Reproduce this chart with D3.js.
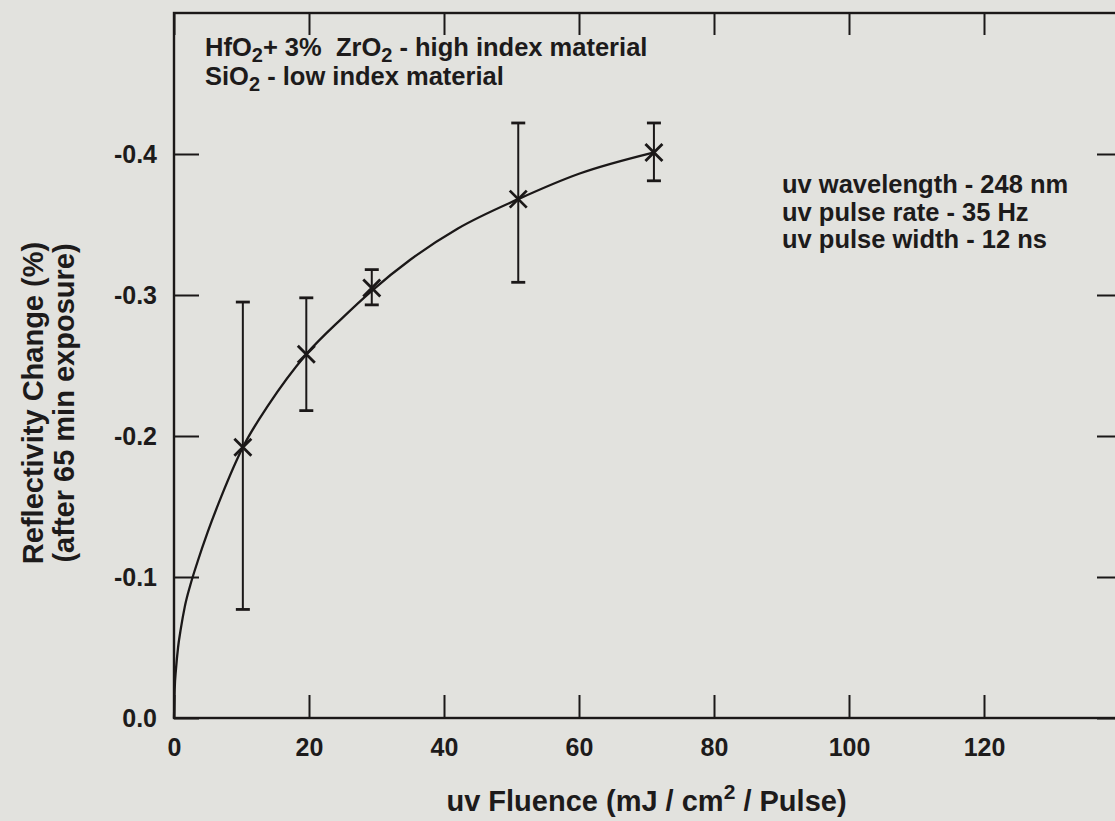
<!DOCTYPE html>
<html>
<head>
<meta charset="utf-8">
<script src="https://cdn.jsdelivr.net/npm/d3@7"></script>
<style>
  html, body { margin: 0; padding: 0; background: #e2e2de; }
  svg { display: block; }
  text { font-family: "Liberation Sans", Arial, Helvetica, sans-serif; font-weight: bold; fill: #1d1b1b; }
</style>
</head>
<body>
<svg id="chart" width="1115" height="821"></svg>
<script>
// Measured reflectivity change vs. uv fluence
const fluence   = [10.2, 19.6, 29.3, 51.0, 71.1];
const change    = [-0.192, -0.258, -0.305, -0.368, -0.401];
const errUpper  = [-0.077, -0.218, -0.293, -0.309, -0.381];
const errLower  = [-0.295, -0.298, -0.318, -0.422, -0.422];

// Fitted trend line, sampled along its path
const fitFluence = [0, 0.1, 0.3, 0.6, 1.0, 1.6, 2.4, 3.5, 5, 7, 10.2, 14, 19.6, 25, 29.3, 35, 42, 51, 60, 71];
const fitChange  = [0, -0.020, -0.035, -0.050, -0.063, -0.079, -0.094, -0.111, -0.132, -0.157, -0.192,
                    -0.222, -0.258, -0.284, -0.303, -0.325, -0.347, -0.368, -0.386, -0.401];

// Axis ticks
const xTicks = [0, 20, 40, 60, 80, 100, 120];
const yTicks = [0, -0.1, -0.2, -0.3, -0.4];

const ink = "#1b1818";
const svg = d3.select("#chart");

const x = d3.scaleLinear().domain([0, 140]).range([174, 1119]);
const y = d3.scaleLinear().domain([0, -0.5]).range([718, 13]);

const plot = svg.append("g");

// Bottom axis with labels, inward ticks
const axBottom = plot.append("g")
  .attr("transform", `translate(0,${y(0)})`)
  .call(d3.axisBottom(x).tickValues(xTicks).tickSizeInner(-23).tickSizeOuter(0)
        .tickPadding(20).tickFormat(d => d));
// Top axis, ticks only
const axTop = plot.append("g")
  .attr("transform", `translate(0,${y(-0.5)})`)
  .call(d3.axisTop(x).tickValues(xTicks).tickSizeInner(-22).tickSizeOuter(0).tickFormat(""));
// Left axis with labels
const axLeft = plot.append("g")
  .attr("transform", `translate(${x(0)},0)`)
  .call(d3.axisLeft(y).tickValues(yTicks).tickSizeInner(-25).tickSizeOuter(0)
        .tickPadding(17).tickFormat(d => d.toFixed(1)));
// Right axis, ticks only
const axRight = plot.append("g")
  .attr("transform", `translate(${x(140)},0)`)
  .call(d3.axisRight(y).tickValues(yTicks).tickSizeInner(-22).tickSizeOuter(0).tickFormat(""));

[axBottom, axTop, axLeft, axRight].forEach(g => {
  g.select(".domain").remove();
  g.selectAll(".tick line").attr("stroke", ink).attr("stroke-width", 2);
  g.selectAll(".tick text").style("font-size", "25px").attr("fill", ink);
});
axBottom.selectAll(".tick text").attr("dy", "0.71em");
axLeft.selectAll(".tick text").attr("dy", "0.35em");

// Frame
plot.append("rect")
  .attr("x", x(0)).attr("y", y(-0.5))
  .attr("width", x(140) - x(0)).attr("height", y(0) - y(-0.5))
  .attr("fill", "none").attr("stroke", ink).attr("stroke-width", 2.4);

// Trend line
const fitData = fitFluence.map((f, i) => [f, fitChange[i]]);
plot.append("path")
  .datum(fitData)
  .attr("fill", "none").attr("stroke", ink).attr("stroke-width", 2.3)
  .attr("d", d3.line().x(d => x(d[0])).y(d => y(d[1])).curve(d3.curveMonotoneX));

// Error bars
const pts = fluence.map((f, i) => ({ f, v: change[i], lo: errUpper[i], hi: errLower[i] }));
const bars = plot.append("g").attr("stroke", ink);
bars.selectAll("line.stem").data(pts).join("line").attr("class", "stem")
  .attr("x1", d => x(d.f)).attr("x2", d => x(d.f))
  .attr("y1", d => y(d.lo)).attr("y2", d => y(d.hi))
  .attr("stroke-width", 2);
const capW = 7;
bars.selectAll("line.capHi").data(pts).join("line").attr("class", "capHi")
  .attr("x1", d => x(d.f) - capW).attr("x2", d => x(d.f) + capW)
  .attr("y1", d => y(d.hi)).attr("y2", d => y(d.hi))
  .attr("stroke-width", 2.8);
bars.selectAll("line.capLo").data(pts).join("line").attr("class", "capLo")
  .attr("x1", d => x(d.f) - capW).attr("x2", d => x(d.f) + capW)
  .attr("y1", d => y(d.lo)).attr("y2", d => y(d.lo))
  .attr("stroke-width", 2.8);

// Cross markers
const arm = 8.5;
const marks = plot.append("g").attr("stroke", ink).attr("stroke-width", 2.8);
marks.selectAll("path").data(pts).join("path")
  .attr("d", d => {
    const cx = x(d.f), cy = y(d.v);
    return `M${cx - arm},${cy - arm}L${cx + arm},${cy + arm}M${cx - arm},${cy + arm}L${cx + arm},${cy - arm}`;
  });

// Material notes
const noteSize = 25.5, subSize = 20, subDrop = 6;
const note1 = svg.append("text").attr("x", 205).attr("y", 56).style("font-size", noteSize + "px");
note1.append("tspan").text("HfO");
note1.append("tspan").text("2").attr("dy", subDrop).style("font-size", subSize + "px");
note1.append("tspan").text("+ 3%\u00a0 ZrO").attr("dy", -subDrop);
note1.append("tspan").text("2").attr("dy", subDrop).style("font-size", subSize + "px");
note1.append("tspan").text(" - high index material").attr("dy", -subDrop);

const note2 = svg.append("text").attr("x", 205).attr("y", 85).style("font-size", noteSize + "px");
note2.append("tspan").text("SiO");
note2.append("tspan").text("2").attr("dy", subDrop).style("font-size", subSize + "px");
note2.append("tspan").text(" - low index material").attr("dy", -subDrop);

// Exposure conditions
const conditions = ["uv wavelength - 248 nm", "uv pulse rate - 35 Hz", "uv pulse width - 12 ns"];
svg.append("g").selectAll("text").data(conditions).join("text")
  .attr("x", 782).attr("y", (d, i) => 193 + i * 27.5)
  .style("font-size", "25.5px")
  .text(d => d);

// X axis title
const xt = svg.append("text")
  .attr("x", (x(0) + x(140)) / 2).attr("y", 811)
  .attr("text-anchor", "middle").style("font-size", "29px");
xt.append("tspan").text("uv Fluence (mJ / cm");
xt.append("tspan").text("2").attr("dy", -12).style("font-size", "21px");
xt.append("tspan").text(" / Pulse)").attr("dy", 12);

// Y axis title
const yt = svg.append("text")
  .attr("transform", "translate(0,403) rotate(-90)")
  .attr("text-anchor", "middle").style("font-size", "29px");
yt.append("tspan").attr("x", 0).attr("y", 43).text("Reflectivity Change (%)");
yt.append("tspan").attr("x", 0).attr("y", 74).text("(after 65 min exposure)");
</script>
</body>
</html>
